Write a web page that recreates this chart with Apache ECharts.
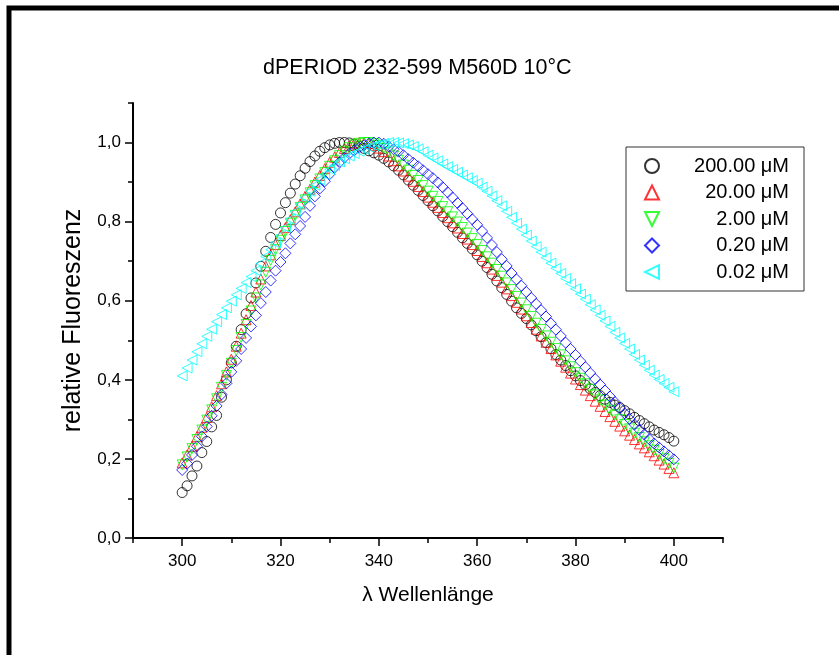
<!DOCTYPE html>
<html>
<head>
<meta charset="utf-8">
<title>dPERIOD 232-599 M560D 10°C</title>
<script src="https://cdn.jsdelivr.net/npm/echarts@6/dist/echarts.min.js"></script>
<style>
  html, body { margin: 0; padding: 0; background: #fff; }
  #chart { width: 839px; height: 655px; }
</style>
</head>
<body>
<div id="chart"></div>
<script>
// Emission wavelengths (nm), 1 nm steps
const wavelengths = [
  300, 301, 302, 303, 304, 305, 306, 307, 308, 309,
  310, 311, 312, 313, 314, 315, 316, 317, 318, 319,
  320, 321, 322, 323, 324, 325, 326, 327, 328, 329,
  330, 331, 332, 333, 334, 335, 336, 337, 338, 339,
  340, 341, 342, 343, 344, 345, 346, 347, 348, 349,
  350, 351, 352, 353, 354, 355, 356, 357, 358, 359,
  360, 361, 362, 363, 364, 365, 366, 367, 368, 369,
  370, 371, 372, 373, 374, 375, 376, 377, 378, 379,
  380, 381, 382, 383, 384, 385, 386, 387, 388, 389,
  390, 391, 392, 393, 394, 395, 396, 397, 398, 399, 400
];

// Normalised fluorescence, one list per protein concentration
const conc200 = [
  0.115, 0.132, 0.157, 0.182, 0.216, 0.244, 0.281, 0.310, 0.356, 0.400,
  0.443, 0.485, 0.527, 0.567, 0.607, 0.645, 0.687, 0.725, 0.760, 0.793,
  0.822, 0.848, 0.872, 0.895, 0.916, 0.935, 0.952, 0.966, 0.978, 0.987,
  0.994, 0.998, 1.000, 1.000, 0.999, 0.996, 0.991, 0.985, 0.979, 0.974,
  0.968, 0.960, 0.951, 0.941, 0.930, 0.918, 0.905, 0.892, 0.879, 0.866,
  0.853, 0.840, 0.827, 0.813, 0.800, 0.787, 0.773, 0.759, 0.745, 0.731,
  0.716, 0.700, 0.684, 0.667, 0.650, 0.633, 0.616, 0.599, 0.582, 0.568,
  0.555, 0.539, 0.524, 0.509, 0.494, 0.479, 0.464, 0.450, 0.436, 0.423,
  0.410, 0.398, 0.387, 0.377, 0.368, 0.360, 0.351, 0.343, 0.336, 0.330,
  0.322, 0.314, 0.305, 0.297, 0.289, 0.281, 0.273, 0.267, 0.261, 0.254, 0.245
];
const conc20 = [
  0.190, 0.210, 0.232, 0.256, 0.280, 0.305, 0.332, 0.360, 0.390, 0.420,
  0.452, 0.485, 0.518, 0.552, 0.588, 0.622, 0.655, 0.688, 0.716, 0.742,
  0.765, 0.785, 0.805, 0.825, 0.845, 0.864, 0.882, 0.900, 0.917, 0.934,
  0.950, 0.963, 0.975, 0.985, 0.993, 0.998, 1.000, 1.000, 0.998, 0.993,
  0.986, 0.977, 0.966, 0.954, 0.941, 0.928, 0.915, 0.902, 0.889, 0.876,
  0.862, 0.849, 0.836, 0.823, 0.810, 0.797, 0.784, 0.770, 0.756, 0.742,
  0.727, 0.712, 0.696, 0.680, 0.664, 0.647, 0.630, 0.613, 0.596, 0.579,
  0.562, 0.545, 0.528, 0.511, 0.495, 0.479, 0.463, 0.447, 0.432, 0.417,
  0.402, 0.388, 0.374, 0.360, 0.346, 0.333, 0.320, 0.307, 0.295, 0.283,
  0.271, 0.260, 0.249, 0.238, 0.228, 0.218, 0.208, 0.197, 0.187, 0.176, 0.165
];
const conc2 = [
  0.185, 0.205, 0.226, 0.249, 0.273, 0.298, 0.324, 0.352, 0.381, 0.411,
  0.442, 0.474, 0.507, 0.540, 0.574, 0.607, 0.640, 0.672, 0.702, 0.729,
  0.753, 0.775, 0.796, 0.816, 0.836, 0.855, 0.873, 0.891, 0.908, 0.924,
  0.940, 0.954, 0.967, 0.978, 0.987, 0.994, 0.998, 1.000, 1.000, 0.997,
  0.992, 0.985, 0.976, 0.966, 0.955, 0.943, 0.930, 0.917, 0.904, 0.891,
  0.877, 0.864, 0.851, 0.838, 0.825, 0.812, 0.799, 0.785, 0.771, 0.757,
  0.742, 0.727, 0.711, 0.695, 0.679, 0.662, 0.645, 0.628, 0.611, 0.594,
  0.577, 0.560, 0.543, 0.527, 0.511, 0.495, 0.479, 0.463, 0.448, 0.433,
  0.418, 0.404, 0.390, 0.376, 0.362, 0.349, 0.336, 0.323, 0.311, 0.299,
  0.287, 0.276, 0.265, 0.254, 0.243, 0.233, 0.222, 0.211, 0.200, 0.189, 0.177
];
const conc02 = [
  0.172, 0.188, 0.210, 0.232, 0.257, 0.282, 0.309, 0.334, 0.363, 0.391,
  0.420, 0.448, 0.478, 0.506, 0.535, 0.563, 0.594, 0.622, 0.651, 0.676,
  0.698, 0.720, 0.745, 0.768, 0.789, 0.812, 0.840, 0.864, 0.884, 0.902,
  0.920, 0.937, 0.950, 0.962, 0.972, 0.980, 0.987, 0.993, 0.998, 1.000,
  1.000, 0.997, 0.990, 0.983, 0.977, 0.968, 0.958, 0.949, 0.940, 0.930,
  0.920, 0.910, 0.899, 0.887, 0.874, 0.861, 0.847, 0.834, 0.820, 0.806,
  0.792, 0.776, 0.759, 0.741, 0.723, 0.705, 0.688, 0.670, 0.654, 0.638,
  0.622, 0.607, 0.592, 0.576, 0.560, 0.543, 0.527, 0.511, 0.494, 0.478,
  0.463, 0.447, 0.432, 0.417, 0.402, 0.388, 0.373, 0.358, 0.344, 0.329,
  0.315, 0.301, 0.287, 0.274, 0.262, 0.250, 0.239, 0.229, 0.219, 0.209, 0.199
];
const conc002 = [
  0.410, 0.430, 0.450, 0.471, 0.491, 0.510, 0.528, 0.547, 0.565, 0.582,
  0.599, 0.615, 0.631, 0.646, 0.661, 0.676, 0.694, 0.712, 0.729, 0.746,
  0.765, 0.785, 0.806, 0.825, 0.844, 0.861, 0.877, 0.892, 0.906, 0.919,
  0.932, 0.942, 0.951, 0.959, 0.966, 0.972, 0.978, 0.983, 0.988, 0.992,
  0.995, 0.998, 1.000, 1.000, 0.999, 0.997, 0.994, 0.990, 0.984, 0.977,
  0.968, 0.961, 0.954, 0.946, 0.939, 0.932, 0.925, 0.918, 0.911, 0.904,
  0.897, 0.887, 0.877, 0.865, 0.853, 0.840, 0.826, 0.811, 0.796, 0.781,
  0.766, 0.751, 0.737, 0.723, 0.709, 0.695, 0.682, 0.669, 0.656, 0.643,
  0.630, 0.617, 0.604, 0.590, 0.577, 0.563, 0.549, 0.535, 0.520, 0.506,
  0.492, 0.478, 0.464, 0.450, 0.437, 0.424, 0.412, 0.401, 0.391, 0.381, 0.370
];

const seriesNames = ['200.00 μM', '20.00 μM', '2.00 μM', '0.20 μM', '0.02 μM'];
const xMajorTicks = [300, 320, 340, 360, 380, 400];
const yMajorTicks = [0, 0.2, 0.4, 0.6, 0.8, 1.0];

const FONT = "'Liberation Sans', Arial, Helvetica, sans-serif";

// Outline triangles for the legend (down- and left-pointing)
const ICON_TRI_DOWN = 'path://M0,0 L10,0 L5,10 Z';
const ICON_TRI_LEFT = 'path://M10,0 L10,10 L0,5 Z';

function pairs(values) {
  return wavelengths.map((w, i) => [w, values[i]]);
}

function markerSeries(name, values, color, symbol, rotate, size) {
  return {
    name: name,
    type: 'scatter',
    xAxisIndex: 0,
    yAxisIndex: 0,
    data: pairs(values),
    symbol: symbol,
    symbolRotate: rotate,
    symbolSize: size,
    itemStyle: { color: 'rgba(255,255,255,0)', borderColor: color, borderWidth: 1 },
    emphasis: { disabled: true },
    animation: false
  };
}

const chart = echarts.init(document.getElementById('chart'), null, { renderer: 'canvas' });

chart.setOption({
  backgroundColor: '#ffffff',
  animation: false,
  textStyle: { fontFamily: FONT, color: '#000' },
  title: {
    text: 'dPERIOD 232-599 M560D 10°C',
    left: 263,
    top: 57,
    padding: 0,
    textStyle: { fontFamily: FONT, fontSize: 21.5, fontWeight: 'normal', color: '#000' }
  },
  legend: {
    orient: 'vertical',
    left: 626,
    top: 147,
    padding: [9, 15, 9, 18],
    itemWidth: 14,
    itemHeight: 14,
    itemGap: 6.5,
    borderColor: '#333',
    borderWidth: 1,
    data: [
      { name: seriesNames[0], icon: 'circle' },
      { name: seriesNames[1], icon: 'triangle' },
      { name: seriesNames[2], icon: ICON_TRI_DOWN },
      { name: seriesNames[3], icon: 'diamond' },
      { name: seriesNames[4], icon: ICON_TRI_LEFT }
    ],
    formatter: '{r|{name}}',
    textStyle: {
      fontFamily: FONT,
      fontSize: 20,
      color: '#000',
      width: 125,
      rich: { r: { fontFamily: FONT, fontSize: 20, width: 125, align: 'right' } }
    }
  },
  grid: { left: 133, right: 116, top: 103, bottom: 117, containLabel: false },
  xAxis: [
    {
      type: 'value',
      min: 290,
      max: 410,
      position: 'bottom',
      name: 'λ Wellenlänge',
      nameLocation: 'middle',
      nameGap: 47,
      nameTextStyle: { fontFamily: FONT, fontSize: 21, color: '#000' },
      axisLine: { show: true, onZero: false, lineStyle: { color: '#000', width: 2 } },
      axisTick: { show: true, length: 8, customValues: xMajorTicks, lineStyle: { color: '#000', width: 1.5 } },
      axisLabel: { show: true, customValues: xMajorTicks, margin: 15, fontFamily: FONT, fontSize: 17, color: '#000' },
      splitLine: { show: false }
    },
    {
      type: 'value',
      min: 290,
      max: 410,
      interval: 10,
      position: 'bottom',
      axisLine: { show: false, onZero: false },
      axisTick: { show: true, length: 5, lineStyle: { color: '#000', width: 1.5 } },
      axisLabel: { show: false },
      splitLine: { show: false }
    }
  ],
  yAxis: [
    {
      type: 'value',
      min: 0,
      max: 1.1,
      position: 'left',
      name: 'relative Fluoreszenz',
      nameLocation: 'middle',
      nameGap: 47,
      nameTextStyle: { fontFamily: FONT, fontSize: 25, color: '#000' },
      axisLine: { show: true, onZero: false, lineStyle: { color: '#000', width: 2 } },
      axisTick: { show: true, length: 8, customValues: yMajorTicks, lineStyle: { color: '#000', width: 1.5 } },
      axisLabel: {
        show: true,
        customValues: yMajorTicks,
        margin: 12,
        fontFamily: FONT,
        fontSize: 17,
        color: '#000',
        formatter: v => v.toFixed(1).replace('.', ',')
      },
      splitLine: { show: false }
    },
    {
      type: 'value',
      min: 0,
      max: 1.1,
      interval: 0.1,
      position: 'left',
      axisLine: { show: false, onZero: false },
      axisTick: { show: true, length: 5, lineStyle: { color: '#000', width: 1.5 } },
      axisLabel: { show: false },
      splitLine: { show: false }
    }
  ],
  series: [
    markerSeries(seriesNames[0], conc200, '#000000', 'circle', 0, 10),
    markerSeries(seriesNames[1], conc20, '#ff0000', 'triangle', 0, 10),
    markerSeries(seriesNames[2], conc2, '#00ff00', 'triangle', 180, 10),
    markerSeries(seriesNames[3], conc02, '#0000ff', 'diamond', 0, 11),
    markerSeries(seriesNames[4], conc002, '#00ffff', 'triangle', 90, 10)
  ],
  graphic: [
    {
      type: 'rect',
      silent: true,
      z: 100,
      shape: { x: 9, y: 8, width: 1200, height: 1200 },
      style: { fill: 'none', stroke: '#000', lineWidth: 5 }
    }
  ]
});
</script>
</body>
</html>
